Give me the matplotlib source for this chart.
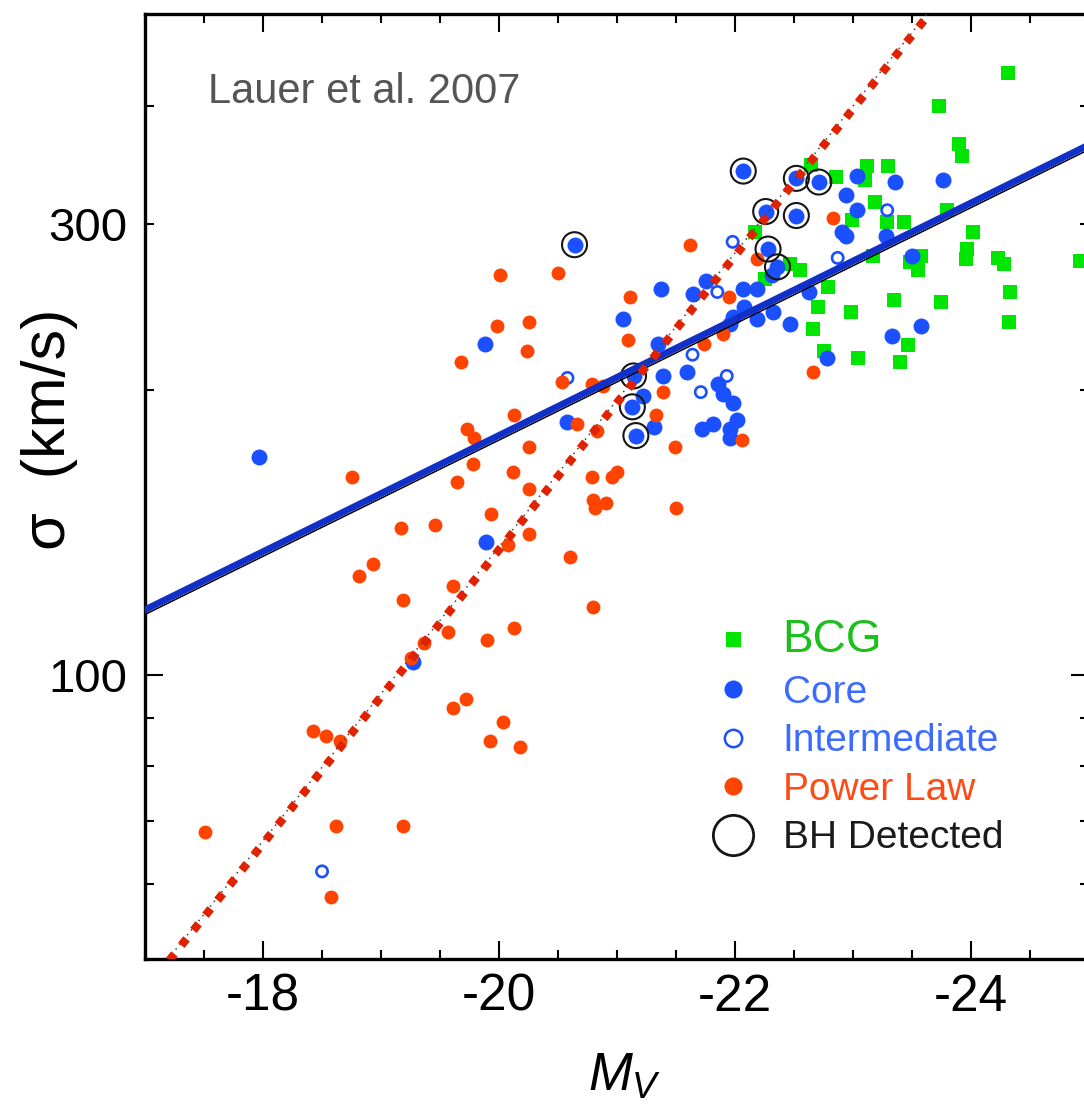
import numpy as np
import matplotlib.pyplot as plt
from matplotlib.lines import Line2D
from matplotlib.ticker import FixedLocator, MultipleLocator, FuncFormatter

plt.rcParams['font.family'] = ['Liberation Sans', 'DejaVu Sans']
plt.rcParams['axes.unicode_minus'] = False
plt.rcParams['lines.scale_dashes'] = False
plt.rcParams['mathtext.fontset'] = 'custom'
plt.rcParams['mathtext.it'] = 'Liberation Sans:italic'
plt.rcParams['mathtext.rm'] = 'Liberation Sans'

# absolute magnitude M_V and velocity dispersion sigma (km/s)
bcg_mv = [-24.31, -23.73, -23.90, -23.92, -23.80, -24.02, -23.97, -23.96, -24.23, -24.28,
          -24.92, -24.33, -23.58, -23.48, -23.55, -23.43, -23.29, -23.12, -23.10, -23.30,
          -22.86, -23.19, -22.99, -23.17, -23.75, -23.35, -22.64, -22.17, -22.47, -22.55,
          -22.25, -22.79, -22.70, -22.98, -22.66, -22.75, -23.04, -23.40, -24.32, -23.47]
bcg_sigma = [433, 400, 364, 354, 310, 294, 282, 275, 276, 272,
             274, 254, 277, 273, 268, 301, 301, 345, 334, 345,
             336, 316, 303, 277, 248, 249, 346, 294, 272, 268,
             262, 257, 245, 242, 232, 220, 216, 214, 236, 223]

core_mv = [-22.07, -22.52, -22.71, -23.03, -23.36, -23.76, -22.94, -23.03, -22.26, -22.52,
           -22.91, -22.94, -23.28, -22.28, -22.36, -22.31, -20.64, -23.50, -22.07, -22.19,
           -21.75, -22.63, -22.08, -21.98, -21.96, -22.19, -22.32, -22.47, -21.64, -21.37,
           -21.05, -21.35, -21.59, -21.39, -21.14, -21.22, -21.13, -21.86, -21.90, -21.98,
           -22.02, -21.96, -21.96, -21.72, -21.81, -21.16, -21.31, -20.58, -19.88, -17.97,
           -19.89, -19.27, -23.33, -23.58, -22.78]
core_sigma = [341, 335, 332, 337, 332, 334, 322, 310, 309, 306,
              294, 291, 291, 282, 270, 265, 285, 277, 256, 256,
              261, 254, 245, 239, 235, 238, 242, 235, 253, 256,
              238, 224, 209, 207, 207, 197, 192, 203, 198, 194,
              186, 182, 178, 182, 184, 179, 183, 185, 224, 170,
              138, 103, 228, 234, 216]

inter_mv = [-21.98, -21.85, -22.87, -23.29, -21.64, -21.93, -21.71, -20.58, -18.50]
inter_sigma = [287, 254, 276, 310, 218, 207, 199, 206, 61.9]

plaw_mv = [-19.19, -19.57, -20.13, -19.90, -19.36, -19.25, -19.72, -19.61, -20.03, -19.92,
           -20.18, -18.42, -18.53, -18.65, -17.51, -18.62, -19.19, -18.58, -19.98, -20.25,
           -20.24, -19.68, -18.75, -20.13, -19.73, -19.79, -20.25, -19.78, -20.12, -19.64,
           -20.25, -19.17, -19.46, -19.93, -20.25, -20.08, -18.93, -18.81, -19.61, -20.01,
           -20.50, -21.62, -21.11, -21.09, -21.95, -21.90, -21.74, -20.53, -20.79, -20.88,
           -21.39, -21.33, -20.66, -20.83, -22.06, -21.49, -20.79, -20.96, -21.00, -20.80,
           -20.91, -20.81, -21.50, -20.60, -20.80, -22.83, -22.19, -22.66]
plaw_sigma = [120, 111, 112, 108.9, 108.1, 104, 94.1, 92.1, 89.0, 85.0,
              83.9, 87.1, 86.0, 85.0, 68.1, 69.1, 69.1, 58.1, 234, 236,
              220, 214, 162, 188, 182, 178, 174, 167, 164, 160,
              157, 143, 144, 148, 141, 137, 131, 127, 124, 265,
              266, 285, 251, 226, 251, 229, 224, 204, 203, 202,
              199, 188, 184, 181, 177, 174, 162, 162, 164, 153,
              152, 150, 150, 133, 118, 304, 275, 209]

bh_mv = [-22.07, -22.52, -22.71, -22.26, -22.52, -22.28, -22.36, -20.64, -21.14, -21.13, -21.16]
bh_sigma = [341, 335, 332, 309, 306, 282, 270, 285, 207, 192, 179]

# fitted relations: log10(sigma) = a + b * M_V
fit_mv = np.array([-17.0, -25.0])
core_fit = (1.0231, -0.0615)
core_fit_alt = (1.0181, -0.0615)
plaw_fit = (-0.9779, -0.1555)
plaw_fit_alt = (-0.9749, -0.1555)

green = '#00e600'
blue = '#1a50ff'
orange = '#ff4400'

fig = plt.figure(figsize=(10.84, 11.11), dpi=100)
ax = fig.add_axes([0.1338, 0.1368, 0.8708, 0.8506])
ax.set_yscale('log')

ax.scatter(bcg_mv, bcg_sigma, marker='s', s=100, color=green, linewidths=0, zorder=2)
ax.scatter(core_mv, core_sigma, marker='o', s=132, color=blue, linewidths=0, zorder=3)
ax.scatter(inter_mv, inter_sigma, marker='o', s=66, facecolors='none', edgecolors=blue,
           linewidths=1.9, zorder=3)
ax.scatter(plaw_mv, plaw_sigma, marker='o', s=100, color=orange, linewidths=0, zorder=4)
ax.scatter(bh_mv, bh_sigma, marker='o', s=324, facecolors='none', edgecolors='#151515',
           linewidths=1.5, zorder=5)

ax.plot(fit_mv, 10 ** (core_fit_alt[0] + core_fit_alt[1] * fit_mv), color='black', lw=1.1, zorder=6)
ax.plot(fit_mv, 10 ** (core_fit[0] + core_fit[1] * fit_mv), color='#1030c8', lw=4.8, zorder=7)
ax.plot(fit_mv, 10 ** (plaw_fit_alt[0] + plaw_fit_alt[1] * fit_mv), color='#444444', lw=1.1,
        ls=(0, (1.1, 3.3)), zorder=8)
ax.plot(fit_mv, 10 ** (plaw_fit[0] + plaw_fit[1] * fit_mv), color='#e02200', lw=6,
        ls=(0, (6, 7.9)), dash_capstyle='butt', zorder=9)

ax.set_xlim(-17, -25)
ax.set_ylim(50, 500)

y_labeled = [100, 300]
ax.xaxis.set_major_locator(FixedLocator([-18, -20, -22, -24]))
ax.xaxis.set_minor_locator(MultipleLocator(0.5))
ax.yaxis.set_major_locator(FixedLocator([100]))
ax.yaxis.set_minor_locator(FixedLocator([60, 70, 80, 90, 200, 300, 400]))
ax.yaxis.set_major_formatter(FuncFormatter(lambda v, p: f'{v:g}' if v in y_labeled else ''))
ax.yaxis.set_minor_formatter(FuncFormatter(lambda v, p: f'{v:g}' if v in y_labeled else ''))

ax.tick_params(which='both', direction='in', top=True, right=True, width=1.5)
ax.tick_params(which='major', length=13)
ax.tick_params(which='minor', length=6.5)
ax.tick_params(axis='y', which='both', labelsize=34, pad=13)
ax.tick_params(axis='x', which='major', labelsize=37, pad=10)
for lab in ax.get_xticklabels():
    lab.set_family(['Liberation Sans Narrow', 'Liberation Sans'])
for sp in ax.spines.values():
    sp.set_linewidth(2.4)

ax.set_ylabel('σ  (km/s)', fontsize=44)
ax.yaxis.set_label_coords(-0.071, 0.56)
ax.set_xlabel(r'$M_V$', fontsize=38)
ax.xaxis.set_label_coords(0.508, -0.098)

ax.text(0.0667, 0.906, 'Lauer et al. 2007', transform=ax.transAxes, fontsize=30,
        color='#555555', va='baseline')

handles = [
    Line2D([], [], ls='none', marker='s', ms=10.8, color=green, mew=0),
    Line2D([], [], ls='none', marker='o', ms=13, color=blue, mew=0),
    Line2D([], [], ls='none', marker='o', ms=12.5, mfc='none', mec=blue, mew=1.8),
    Line2D([], [], ls='none', marker='o', ms=13, color=orange, mew=0),
    Line2D([], [], ls='none', marker='o', ms=29, mfc='none', mec='#151515', mew=2.0),
]
labels = ['BCG', 'Core', 'Intermediate', 'Power Law', 'BH Detected']
label_colors = ['#1dbf1d', '#3d6bff', '#3d6bff', '#ff4a14', '#1a1a1a']
leg = ax.legend(handles, labels, loc='upper left', bbox_to_anchor=(0.602, 0.3605),
                frameon=False, fontsize=28, borderpad=0, borderaxespad=0,
                handlelength=1.0, handletextpad=0.785, labelspacing=0.32,
                labelcolor=label_colors)
leg.get_texts()[0].set_fontsize(33)

fig.savefig('out.png', dpi=100)
